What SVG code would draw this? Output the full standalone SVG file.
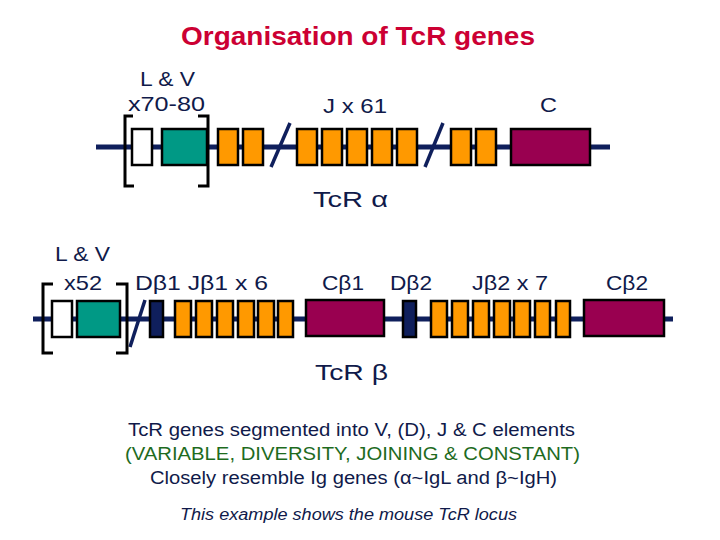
<svg xmlns="http://www.w3.org/2000/svg" width="720" height="540" viewBox="0 0 720 540">
<style>
text{font-family:"Liberation Sans",Arial,sans-serif;fill:#101a4a}
.lbl{font-size:21px}
.seg{stroke:#000;stroke-width:2.5}
.v{fill:#fff}
.l{fill:#009985}
.j{fill:#ff9900}
.c{fill:#990050}
.d{fill:#0f1f5c}
.bb{stroke:#0f1f5c;stroke-width:5;fill:none}
.sl{stroke:#0f1f5c;stroke-width:3.5;fill:none}
.br{stroke:#000;stroke-width:3;fill:none}
.body{font-size:18px}
</style>
<rect width="720" height="540" fill="#fff"/>
<text x="181" y="45" textLength="354" lengthAdjust="spacingAndGlyphs" style="font-size:25px;font-weight:bold;fill:#cc0033">Organisation of TcR genes</text>

<g id="connectors">
<line class="bb" x1="96" y1="147" x2="610" y2="147"/>
<line class="bb" x1="33" y1="319" x2="673" y2="319"/>
<line class="sl" x1="271" y1="167" x2="290" y2="123"/>
<line class="sl" x1="425" y1="167" x2="443" y2="123"/>
<line class="sl" x1="130" y1="347" x2="145" y2="300"/>
</g>

<g id="alpha-LV">
<path class="br" d="M133,116 H125 V186 H134"/>
<path class="br" d="M198,116 H208 V186 H198"/>
<rect class="seg v" x="132" y="129" width="20" height="36"/>
<rect class="seg l" x="162" y="129" width="45" height="36"/>
<text class="lbl" x="140" y="86" textLength="55" lengthAdjust="spacingAndGlyphs">L &amp; V</text>
<text class="lbl" x="128" y="111" textLength="77" lengthAdjust="spacingAndGlyphs">x70-80</text>
</g>

<g id="alpha-J">
<rect class="seg j" x="218" y="129" width="20" height="36"/>
<rect class="seg j" x="243" y="129" width="20" height="36"/>
<rect class="seg j" x="297" y="129" width="20" height="36"/>
<rect class="seg j" x="322" y="129" width="20" height="36"/>
<rect class="seg j" x="347" y="129" width="20" height="36"/>
<rect class="seg j" x="372" y="129" width="20" height="36"/>
<rect class="seg j" x="397" y="129" width="20" height="36"/>
<rect class="seg j" x="451" y="129" width="20" height="36"/>
<rect class="seg j" x="476" y="129" width="20" height="36"/>
<text class="lbl" x="323" y="113" textLength="64" lengthAdjust="spacingAndGlyphs">J x 61</text>
</g>

<g id="alpha-C">
<rect class="seg c" x="511" y="129" width="79" height="36"/>
<text class="lbl" x="540" y="112" textLength="17" lengthAdjust="spacingAndGlyphs">C</text>
</g>

<g id="alpha-title">
<text x="313" y="207" textLength="75" lengthAdjust="spacingAndGlyphs" style="font-size:22px">TcR α</text>
</g>

<g id="beta-LV">
<path class="br" d="M53,284 H43 V353 H53"/>
<path class="br" d="M116,284 H127 V353 H116"/>
<rect class="seg v" x="52" y="301" width="20" height="36"/>
<rect class="seg l" x="77" y="301" width="43" height="36"/>
<text class="lbl" x="55" y="261" textLength="55" lengthAdjust="spacingAndGlyphs">L &amp; V</text>
<text class="lbl" x="64" y="290" textLength="38" lengthAdjust="spacingAndGlyphs">x52</text>
</g>

<g id="beta-D1J1">
<rect class="seg d" x="150" y="301" width="13" height="36"/>
<rect class="seg j" x="175" y="301" width="16" height="36"/>
<rect class="seg j" x="196" y="301" width="16" height="36"/>
<rect class="seg j" x="217" y="301" width="16" height="36"/>
<rect class="seg j" x="238" y="301" width="16" height="36"/>
<rect class="seg j" x="258" y="301" width="16" height="36"/>
<rect class="seg j" x="278" y="301" width="15" height="36"/>
<text class="lbl" x="135" y="290" textLength="133" lengthAdjust="spacingAndGlyphs">Dβ1  Jβ1 x 6</text>
</g>

<g id="beta-C1">
<rect class="seg c" x="306" y="300" width="78" height="36"/>
<text class="lbl" x="322" y="290" textLength="42" lengthAdjust="spacingAndGlyphs">Cβ1</text>
</g>

<g id="beta-D2J2">
<rect class="seg d" x="403" y="301" width="13" height="36"/>
<rect class="seg j" x="431" y="301" width="16" height="36"/>
<rect class="seg j" x="452" y="301" width="16" height="36"/>
<rect class="seg j" x="473" y="301" width="16" height="36"/>
<rect class="seg j" x="494" y="301" width="16" height="36"/>
<rect class="seg j" x="514" y="301" width="16" height="36"/>
<rect class="seg j" x="535" y="301" width="15" height="36"/>
<rect class="seg j" x="556" y="301" width="14" height="36"/>
<text class="lbl" x="390" y="290" textLength="42" lengthAdjust="spacingAndGlyphs">Dβ2</text>
<text class="lbl" x="472" y="290" textLength="76" lengthAdjust="spacingAndGlyphs">Jβ2 x 7</text>
</g>

<g id="beta-C2">
<rect class="seg c" x="584" y="300" width="80" height="36"/>
<text class="lbl" x="606" y="290" textLength="42" lengthAdjust="spacingAndGlyphs">Cβ2</text>
</g>

<g id="beta-title">
<text x="315" y="380" textLength="73" lengthAdjust="spacingAndGlyphs" style="font-size:22px">TcR β</text>
</g>

<g id="notes">
<text class="body" x="128" y="436" textLength="447" lengthAdjust="spacingAndGlyphs">TcR genes segmented into V, (D), J &amp; C elements</text>
<text class="body" x="125" y="460" textLength="455" lengthAdjust="spacingAndGlyphs" style="fill:#1e6b1e">(VARIABLE, DIVERSITY, JOINING &amp; CONSTANT)</text>
<text class="body" x="150" y="484" textLength="407" lengthAdjust="spacingAndGlyphs">Closely resemble Ig genes (α~IgL and β~IgH)</text>
<text x="180" y="520" textLength="337" lengthAdjust="spacingAndGlyphs" style="font-size:16px;font-style:italic">This example shows the mouse TcR locus</text>
</g>
</svg>
